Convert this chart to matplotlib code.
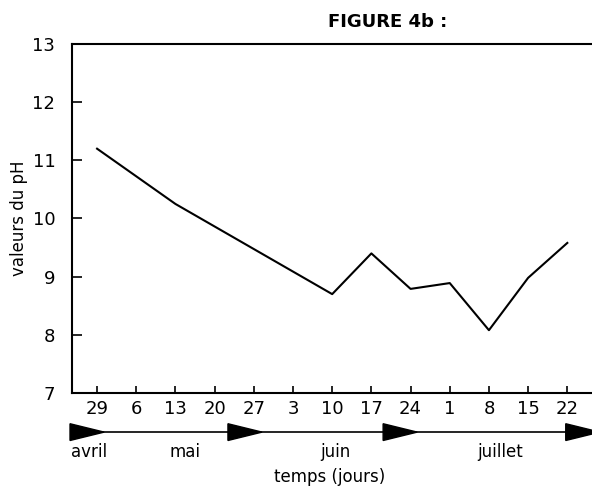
import numpy as np
import matplotlib
matplotlib.use("Agg")
import matplotlib.pyplot as plt
from matplotlib.patches import Polygon
import matplotlib.transforms as mtransforms

# semaines (29 avril -> 22 juillet)
jours = ["29", "6", "13", "20", "27", "3", "10", "17", "24", "1", "8", "15", "22"]
# indices des prélèvements et valeurs du pH
semaine = [0, 2, 6, 7, 8, 9, 10, 11, 12]
ph = [11.2, 10.25, 8.7, 9.4, 8.79, 8.89, 8.08, 8.98, 9.58]

mois = ["avril", "mai", "juin", "juillet"]
mois_x = [-0.2, 2.24, 6.07, 10.28]
fleches_x = [-0.69, 3.34, 7.30, 11.96]

plt.rcParams['font.family'] = ['DejaVu Sans']

fig = plt.figure(figsize=(5.92, 4.93), dpi=100)
ax = fig.add_axes([0.1216, 0.2028, 0.8784, 0.708])

ax.plot(semaine, ph, color='black', lw=1.5)

ax.set_xlim(-0.64, 12.63)
ax.set_ylim(7, 13)
ax.set_xticks(range(len(jours)))
ax.set_xticklabels(jours)
ax.set_yticks(range(7, 14))
ax.tick_params(axis='x', direction='in', length=5, width=1.2, pad=5, labelsize=13)
ax.tick_params(axis='y', direction='in', length=7, width=1.2, pad=12, labelsize=13)
ax.spines['right'].set_visible(False)
for s in ['left', 'bottom', 'top']:
    ax.spines[s].set_linewidth(1.5)

trans = mtransforms.blended_transform_factory(ax.transData, ax.transAxes)
ax.plot([-0.64, 12.63], [-0.112, -0.112], color='black', lw=1.2,
        transform=trans, clip_on=False)
for fx in fleches_x:
    tri = Polygon([[fx, -0.088], [fx, -0.136], [fx + 0.87, -0.112]],
                  closed=True, color='black', transform=trans, clip_on=False)
    ax.add_patch(tri)

for m, mx in zip(mois, mois_x):
    ax.text(mx, -0.168, m, transform=trans, ha='center', va='center', fontsize=12)

ax.text(0.496, -0.24, "temps (jours)", transform=ax.transAxes,
        ha='center', va='center', fontsize=12)
ax.set_ylabel("valeurs du pH", fontsize=12, labelpad=3)

fig.text(0.655, 0.955, "FIGURE 4b :", ha='center', va='center',
         fontsize=13, fontweight='bold')

fig.savefig("out.png", dpi=100)
